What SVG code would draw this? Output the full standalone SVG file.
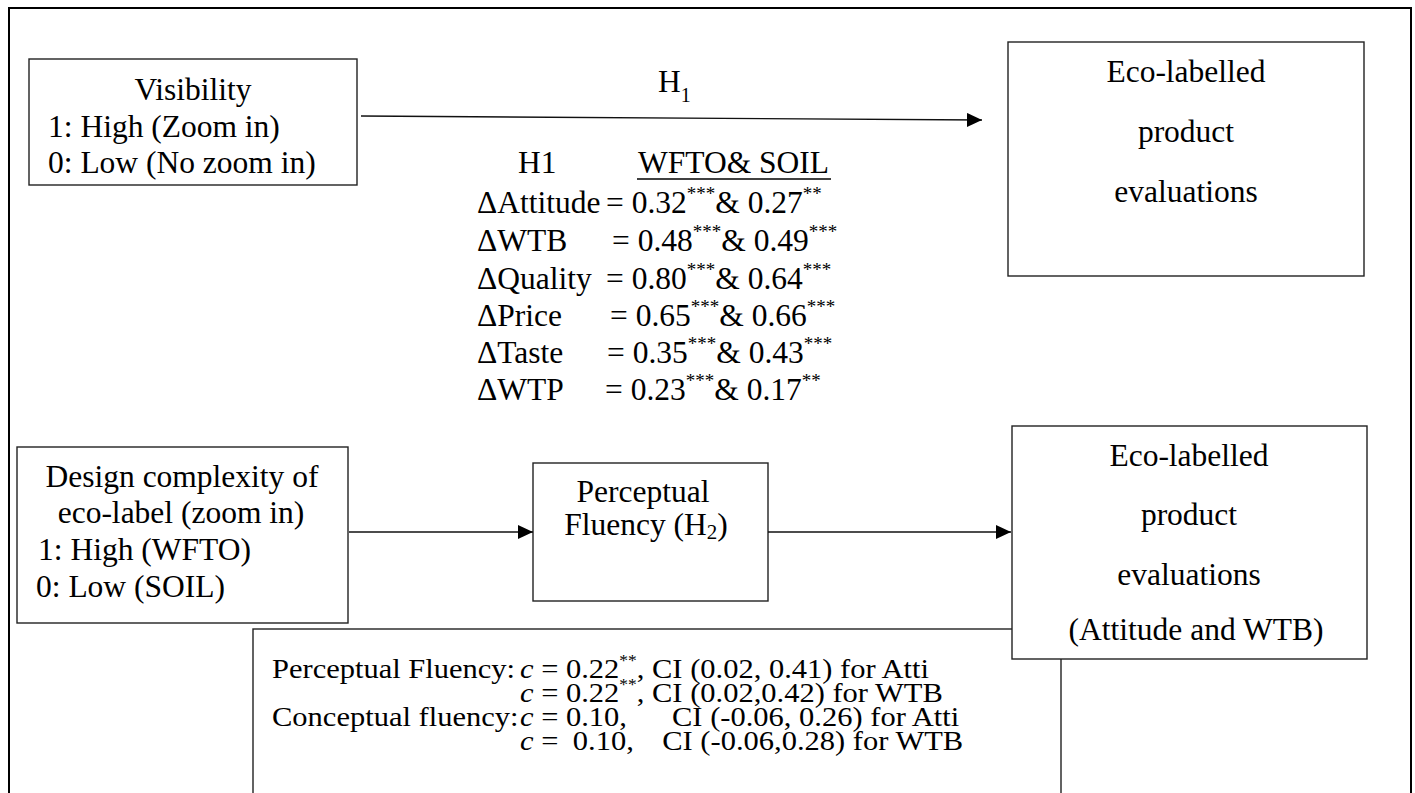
<svg xmlns="http://www.w3.org/2000/svg" width="1415" height="793" viewBox="0 0 1415 793">
<defs>
<style>
text{font-family:"Liberation Serif","Times New Roman",serif;fill:#000;font-size:31.5px}
.c{text-anchor:middle}
.box{fill:#fff;stroke:#222;stroke-width:1.4}
.ln{fill:none;stroke:#111;stroke-width:1.4}
.sm{font-size:28px}
.it{font-style:italic}
</style>
<marker id="ah" markerUnits="userSpaceOnUse" markerWidth="16" markerHeight="14" refX="15" refY="7" orient="auto">
<path d="M0,0 L15,7 L0,14 z" fill="#000"/>
</marker>
</defs>
<rect width="1415" height="793" fill="#fff"/>
<rect x="9" y="8" width="1402" height="810" fill="none" stroke="#000" stroke-width="2"/>

<g id="visibility">
<rect class="box" x="29" y="59" width="328" height="126"/>
<text class="c" x="193" y="100">Visibility</text>
<text x="48" y="137">1: High (Zoom in)</text>
<text x="48" y="173">0: Low (No zoom in)</text>
</g>

<g id="eco1">
<rect class="box" x="1008" y="42" width="356" height="234"/>
<text class="c" x="1186" y="82">Eco-labelled</text>
<text class="c" x="1186" y="142">product</text>
<text class="c" x="1186" y="202">evaluations</text>
</g>

<g id="h1-results">
<text x="518" y="173">H1</text>
<text x="638" y="173">WFTO&amp; SOIL</text>
<line x1="637" y1="179" x2="831" y2="179" stroke="#000" stroke-width="1.6"/>
<text x="477" y="213">ΔAttitude<tspan x="606">= 0.32</tspan><tspan font-size="19" dy="-13">***</tspan><tspan dy="13">&amp; 0.27</tspan><tspan font-size="19" dy="-13">**</tspan></text>
<text x="477" y="251">ΔWTB<tspan x="612">= 0.48</tspan><tspan font-size="19" dy="-13">***</tspan><tspan dy="13">&amp; 0.49</tspan><tspan font-size="19" dy="-13">***</tspan></text>
<text x="477" y="289">ΔQuality<tspan x="606">= 0.80</tspan><tspan font-size="19" dy="-13">***</tspan><tspan dy="13">&amp; 0.64</tspan><tspan font-size="19" dy="-13">***</tspan></text>
<text x="477" y="326">ΔPrice<tspan x="610">= 0.65</tspan><tspan font-size="19" dy="-13">***</tspan><tspan dy="13">&amp; 0.66</tspan><tspan font-size="19" dy="-13">***</tspan></text>
<text x="477" y="363">ΔTaste<tspan x="607">= 0.35</tspan><tspan font-size="19" dy="-13">***</tspan><tspan dy="13">&amp; 0.43</tspan><tspan font-size="19" dy="-13">***</tspan></text>
<text x="477" y="400">ΔWTP<tspan x="605">= 0.23</tspan><tspan font-size="19" dy="-13">***</tspan><tspan dy="13">&amp; 0.17</tspan><tspan font-size="19" dy="-13">**</tspan></text>
</g>

<g id="design">
<rect class="box" x="17" y="447" width="331" height="176"/>
<text class="c" x="182" y="487">Design complexity of</text>
<text class="c" x="181" y="523">eco-label (zoom in)</text>
<text x="38" y="560">1: High (WFTO)</text>
<text x="36" y="597">0: Low (SOIL)</text>
</g>

<g id="perceptual">
<rect class="box" x="533" y="463" width="235" height="138"/>
<text class="c" x="643" y="502">Perceptual</text>
<text class="c" x="646" y="535">Fluency (H<tspan font-size="21" dy="4">2</tspan><tspan dy="-4">)</tspan></text>
</g>

<g id="mediation">
<rect class="box" x="253" y="629" width="808" height="200"/>
<g transform="translate(272,0) scale(1.09,1)">
<text class="sm" x="0" y="678">Perceptual Fluency:<tspan x="227.5" class="it">c</tspan> = 0.22<tspan font-size="16" dy="-12">**</tspan><tspan dy="12">, CI (0.02, 0.41) for Atti</tspan></text>
<text class="sm" x="227.5" y="702"><tspan class="it">c</tspan> = 0.22<tspan font-size="16" dy="-12">**</tspan><tspan dy="12">, CI (0.02,0.42) for WTB</tspan></text>
<text class="sm" x="0" y="726">Conceptual fluency:<tspan x="227.5" class="it">c</tspan> = 0.10,<tspan x="367">CI (-0.06, 0.26) for Atti</tspan></text>
<text class="sm" x="227.5" y="750"><tspan class="it">c</tspan> =<tspan x="276">0.10,</tspan><tspan x="358">CI (-0.06,0.28) for WTB</tspan></text>
</g>
</g>

<g id="eco2">
<rect class="box" x="1012" y="426" width="355" height="233"/>
<text class="c" x="1189" y="466">Eco-labelled</text>
<text class="c" x="1189" y="525">product</text>
<text class="c" x="1189" y="585">evaluations</text>
<text class="c" x="1196" y="640">(Attitude and WTB)</text>
</g>

<g id="connectors">
<line class="ln" x1="361" y1="116" x2="982" y2="120" marker-end="url(#ah)"/>
<text x="658" y="92">H<tspan font-size="20" dy="10">1</tspan></text>
<line class="ln" x1="349" y1="532" x2="533" y2="532" marker-end="url(#ah)"/>
<line class="ln" x1="768" y1="532" x2="1011" y2="532" marker-end="url(#ah)"/>
</g>
</svg>
